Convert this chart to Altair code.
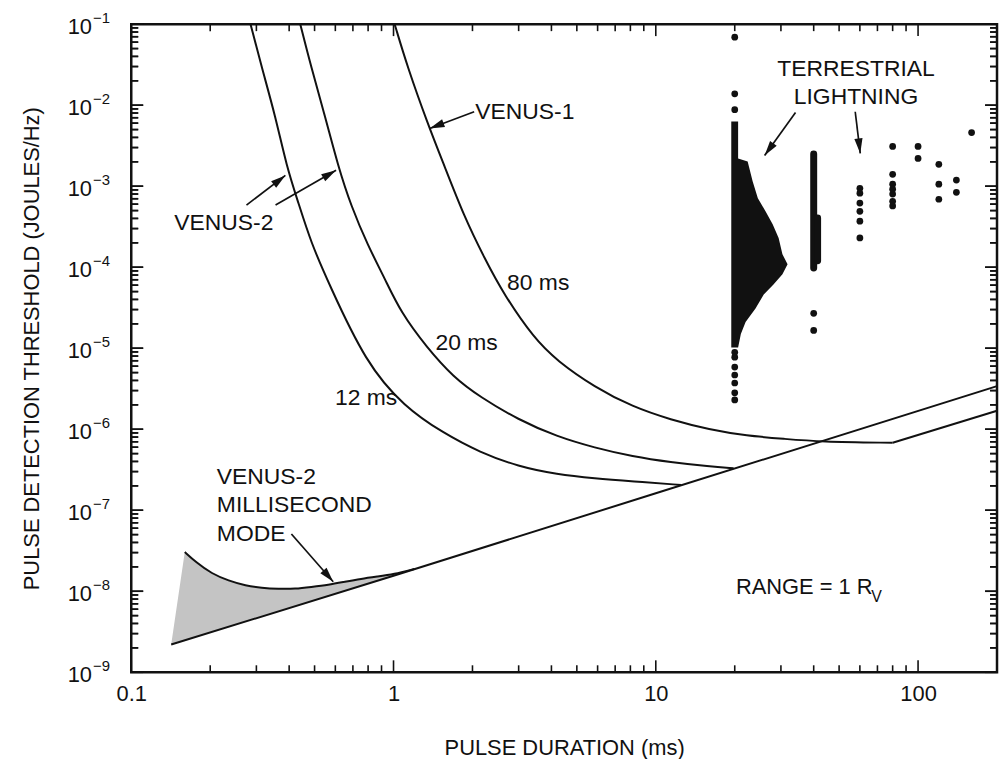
import altair as alt
import pandas as pd

# ---------------- values ----------------
# Venus-1 threshold curve (80 ms), pulse duration [ms] -> threshold [J/Hz]
v1_ms = [1.01, 1.13, 1.35, 1.565, 1.86, 2.22, 2.64, 3.43, 4.20, 5.85, 8.15, 11.4, 16.0, 22.2, 31.0, 42.1, 80.0]
v1_thr = [1e-1, 2.97e-2, 5.9e-3, 1.76e-3, 4.2e-4, 1.3e-4, 4.56e-5, 1.33e-5, 7.0e-6, 3.3e-6,
          1.89e-6, 1.31e-6, 9.9e-7, 8.3e-7, 7.6e-7, 7.0e-7, 6.8e-7]
v1_ramp_ms = [80.0, 200.0]
v1_ramp_thr = [6.8e-7, 1.69e-6]

# Venus-2, 20 ms
v20_ms = [0.441, 0.485, 0.549, 0.615, 0.689, 0.799, 0.927, 1.066, 1.337, 1.69, 2.14, 2.99,
          4.20, 5.85, 8.15, 11.4, 16.0, 19.8]
v20_thr = [1e-1, 2.97e-2, 7.2e-3, 1.76e-3, 5.7e-4, 1.84e-4, 7.2e-5, 2.77e-5, 1.03e-5, 4.4e-6,
           2.5e-6, 1.31e-6, 8.1e-7, 5.9e-7, 4.6e-7, 3.9e-7, 3.47e-7, 3.3e-7]

# Venus-2, 12 ms
v12_ms = [0.285, 0.314, 0.355, 0.391, 0.434, 0.485, 0.564, 0.785, 1.10, 1.54, 2.14, 2.99,
          4.20, 5.85, 8.15, 12.5]
v12_thr = [1e-1, 2.97e-2, 7.2e-3, 1.76e-3, 6.2e-4, 2.0e-4, 6.5e-5, 6.5e-6, 1.89e-6, 9.06e-7,
           5.15e-7, 3.47e-7, 2.77e-7, 2.47e-7, 2.27e-7, 2.05e-7]

# straight noise-limited line
noise_ms = [0.142, 1.0, 10.0, 200.0]
noise_thr = [2.2e-9, 1.55e-8, 1.62e-7, 3.4e-6]

# Venus-2 millisecond mode (upper edge of shaded region) and the line beneath it
mm_ms = [0.142, 0.160, 0.176, 0.203, 0.235, 0.273, 0.314, 0.364, 0.422, 0.485, 0.564,
         0.653, 0.751, 0.871, 1.0, 1.2]
mm_upper = [2.2e-9, 3.05e-8, 2.30e-8, 1.64e-8, 1.35e-8, 1.17e-8, 1.10e-8, 1.07e-8, 1.07e-8,
            1.13e-8, 1.20e-8, 1.31e-8, 1.42e-8, 1.52e-8, 1.62e-8, 1.88e-8]
mm_lower = [2.2e-9, 2.48e-9, 2.73e-9, 3.15e-9, 3.64e-9, 4.23e-9, 4.87e-9, 5.64e-9, 6.54e-9,
            7.52e-9, 8.74e-9, 1.01e-8, 1.16e-8, 1.35e-8, 1.55e-8, 1.87e-8]

# terrestrial lightning: dense 20 ms column (row level -> right edge of the dot pile)
blob_thr = [6.3e-3, 2.2e-3, 2.02e-3, 1.15e-3, 7.1e-4, 4.9e-4, 3.4e-4, 2.3e-4, 1.45e-4,
            1.09e-4, 8.2e-5, 6.1e-5, 4.6e-5, 3.1e-5, 2.1e-5, 1.5e-5, 1.02e-5]
blob_right_ms = [20.6, 20.6, 22.4, 23.4, 24.5, 26.2, 27.9, 29.4, 30.4, 31.8, 30.4, 28.1,
                 25.8, 24.0, 22.0, 21.1, 20.6]
blob_left_ms = 19.4

# 40 ms column of dots (continuous string of dots)
col40_ms = [40.0, 41.4]
col40_top = [2.5e-3, 4.05e-4]
col40_bot = [9.8e-5, 1.2e-4]

# isolated dots
dot_ms = [20, 20, 20, 20, 20, 20, 20, 20, 20, 20,
          40, 40,
          60, 60, 60, 60, 60, 60,
          80, 80, 80, 80, 80, 80, 80,
          100, 100,
          120, 120, 120,
          140, 140,
          160]
dot_thr = [6.9e-2, 1.38e-2, 8.8e-3, 8.9e-6, 7.76e-6, 5.85e-6, 4.67e-6, 3.72e-6, 2.81e-6, 2.3e-6,
           2.7e-5, 1.66e-5,
           9.4e-4, 8.2e-4, 6.2e-4, 4.9e-4, 3.7e-4, 2.3e-4,
           3.1e-3, 1.4e-3, 1.06e-3, 9.2e-4, 8.0e-4, 6.5e-4, 5.7e-4,
           3.1e-3, 2.2e-3,
           1.86e-3, 1.06e-3, 6.9e-4,
           1.19e-3, 8.4e-4,
           4.6e-3]

# annotations
lab_left_text = ["VENUS-1", "VENUS-2", "80 ms", "20 ms", "12 ms", "VENUS-2", "MILLISECOND", "MODE"]
lab_left_ms = [2.05, 0.146, 2.71, 1.446, 0.598, 0.212, 0.212, 0.212]
lab_left_thr = [8.3e-3, 3.5e-4, 6.45e-5, 1.15e-5, 2.44e-6, 2.54e-7, 1.15e-7, 5.08e-8]
range_text = ["RANGE = 1 R"]
range_ms = [20.2]
range_thr = [1.13e-8]
lab_mid_text = ["TERRESTRIAL", "LIGHTNING"]
lab_mid_ms = [58.0, 58.0]
lab_mid_thr = [2.8e-2, 1.27e-2]
sub_text = ["V"]
sub_ms = [66.3]
sub_thr = [8.4e-9]

arrow_tail_ms = [2.03, 0.275, 0.355, 0.408, 34.1, 57.6]
arrow_tail_thr = [8.3e-3, 5.85e-4, 5.85e-4, 5.08e-8, 8.1e-3, 8.3e-3]
arrow_tip_ms = [1.373, 0.387, 0.604, 0.589, 26.0, 60.2]
arrow_tip_thr = [5.15e-3, 1.36e-3, 1.57e-3, 1.31e-8, 2.4e-3, 2.54e-3]
arrow_angle = [249, 52, 60, 139, 216, 173]

# tick positions and labels
x_major = [0.1, 1, 10, 100]
x_minor = [0.2, 0.3, 0.4, 0.5, 0.6, 0.7, 0.8, 0.9, 2, 3, 4, 5, 6, 7, 8, 9,
           20, 30, 40, 50, 60, 70, 80, 90]
y_major = [1e-9, 1e-8, 1e-7, 1e-6, 1e-5, 1e-4, 1e-3, 1e-2, 1e-1]
y_minor = [2e-9, 3e-9, 4e-9, 5e-9, 6e-9, 7e-9, 8e-9, 9e-9,
           2e-8, 3e-8, 4e-8, 5e-8, 6e-8, 7e-8, 8e-8, 9e-8,
           2e-7, 3e-7, 4e-7, 5e-7, 6e-7, 7e-7, 8e-7, 9e-7,
           2e-6, 3e-6, 4e-6, 5e-6, 6e-6, 7e-6, 8e-6, 9e-6,
           2e-5, 3e-5, 4e-5, 5e-5, 6e-5, 7e-5, 8e-5, 9e-5,
           2e-4, 3e-4, 4e-4, 5e-4, 6e-4, 7e-4, 8e-4, 9e-4,
           2e-3, 3e-3, 4e-3, 5e-3, 6e-3, 7e-3, 8e-3, 9e-3,
           2e-2, 3e-2, 4e-2, 5e-2, 6e-2, 7e-2, 8e-2, 9e-2]

# ---------------- chart ----------------
W, H = 871, 652
FONT = "Liberation Sans"
INK = "#111111"
MAJ, MIN = 12, 7
X_LO, X_HI = 0.1, 200.0
xs = alt.Scale(type="log", domain=[X_LO, X_HI], nice=False)
ys = alt.Scale(type="log", domain=[1e-9, 1e-1], nice=False)
PX_PER_DECADE = W / 3.30103  # log10(200 / 0.1)

x_label_axis = alt.Axis(orient="bottom", values=x_major, format="~g", labelFontSize=22,
                        labelPadding=11, labelBaseline="top", labelFlush=False,
                        labelOverlap=False, ticks=False, tickSize=0, domain=False,
                        title="PULSE DURATION (ms)", titleFontSize=22, titleFontWeight="normal",
                        titleX=W / 2, titleY=76, titleBaseline="middle", titleAlign="center")
y_label_axis = alt.Axis(orient="left", values=y_major, labelExpr="'10'", labelFontSize=22,
                        labelAlign="right", labelBaseline="middle", labelPadding=40,
                        labelOffset=2, labelOverlap=False, ticks=False, tickSize=0,
                        domain=False, title="PULSE DETECTION THRESHOLD (JOULES/Hz)",
                        titleFontSize=22, titleFontWeight="normal", titleX=-100, titleY=H / 2,
                        titleAngle=270, titleAlign="center", titleBaseline="middle")
y_exp_axis = alt.Axis(orient="left", values=y_major,
                      labelExpr="'\u2212' + format(-round(log(datum.value)/LN10), 'd')",
                      labelFontSize=15, labelAlign="left", labelBaseline="middle",
                      labelPadding=39, labelOffset=-7, labelOverlap=False, ticks=False,
                      tickSize=0, domain=False, title=None)


def curve(ms, thr, interp, xaxis=None, yaxis=None):
    df = pd.DataFrame({"ms": ms, "thr": thr})
    return alt.Chart(df).mark_line(color=INK, strokeWidth=2, interpolate=interp).encode(
        x=alt.X("ms:Q", scale=xs, axis=xaxis),
        y=alt.Y("thr:Q", scale=ys, axis=yaxis),
        order=alt.Order("ms:Q"),
    )


# ---- inward y ticks on left and right edges (two independent drawings that coincide)
def ytick_lines(values, edge, length_px, direction):
    f = 10 ** (length_px / PX_PER_DECADE)
    end = edge * f if direction > 0 else edge / f
    rows = []
    for i, v in enumerate(values):
        rows.append({"tid": i, "tx": edge, "ty": v})
        rows.append({"tid": i, "tx": end, "ty": v})
    return alt.Chart(pd.DataFrame(rows)).mark_line(color=INK, strokeWidth=1.6).encode(
        x=alt.X("tx:Q", scale=xs, axis=None),
        y=alt.Y("ty:Q", scale=ys, axis=None),
        detail="tid:N",
    )


def ytick_points(values, edge, length_px, direction):
    shape = "M0,0L2,0" if direction > 0 else "M0,0L-2,0"
    df = pd.DataFrame({"px": [edge] * len(values), "py": values})
    return alt.Chart(df).mark_point(
        shape=shape, filled=False, size=length_px * length_px, strokeWidth=1.6,
        color=INK, opacity=1
    ).encode(
        x=alt.X("px:Q", scale=xs, axis=None),
        y=alt.Y("py:Q", scale=ys, axis=None),
    )


def xticks(values, y0, y1):
    return alt.Chart(pd.DataFrame({"v": values})).mark_rule(color=INK, strokeWidth=1.6).encode(
        x=alt.X("v:Q", scale=xs, axis=None), y=alt.value(y0), y2=alt.value(y1))


tick_layers = [
    ytick_lines(y_major, X_LO, MAJ, 1), ytick_lines(y_minor, X_LO, MIN, 1),
    ytick_lines(y_major, X_HI, MAJ, -1), ytick_lines(y_minor, X_HI, MIN, -1),
    ytick_points(y_major, X_LO, MAJ, 1), ytick_points(y_minor, X_LO, MIN, 1),
    ytick_points(y_major, X_HI, MAJ, -1), ytick_points(y_minor, X_HI, MIN, -1),
    xticks(x_major, H, H - MAJ), xticks(x_minor, H, H - MIN),
    xticks(x_major, 0, MAJ), xticks(x_minor, 0, MIN),
]

shade = alt.Chart(pd.DataFrame({"ms": mm_ms, "up": mm_upper, "lo": mm_lower})).mark_area(
    color="#c4c4c4", opacity=1, interpolate="linear"
).encode(
    x=alt.X("ms:Q", scale=xs, axis=None),
    y=alt.Y("up:Q", scale=ys, axis=None),
    y2="lo:Q",
)

v1 = curve(v1_ms, v1_thr, "basis", x_label_axis, y_label_axis)
v1r = curve(v1_ramp_ms, v1_ramp_thr, "linear")
v20 = curve(v20_ms, v20_thr, "basis")
v12 = curve(v12_ms, v12_thr, "basis")
noise = curve(noise_ms, noise_thr, "linear", None, y_exp_axis)
mm = curve(mm_ms[1:], mm_upper[1:], "basis")

blob = alt.Chart(pd.DataFrame({"thr": blob_thr, "xr": blob_right_ms,
                               "xl": [blob_left_ms] * len(blob_thr)})).mark_area(
    color=INK, orient="horizontal", interpolate="linear"
).encode(
    y=alt.Y("thr:Q", scale=ys, axis=None),
    x=alt.X("xl:Q", scale=xs, axis=None),
    x2="xr:Q",
)

col40 = alt.Chart(pd.DataFrame({"ms": col40_ms, "top": col40_top, "bot": col40_bot})).mark_rule(
    color=INK, strokeWidth=7, strokeCap="round"
).encode(
    x=alt.X("ms:Q", scale=xs, axis=None),
    y=alt.Y("top:Q", scale=ys, axis=None),
    y2="bot:Q",
)

dots = alt.Chart(pd.DataFrame({"ms": dot_ms, "thr": dot_thr})).mark_circle(
    color=INK, size=46, opacity=1
).encode(
    x=alt.X("ms:Q", scale=xs, axis=None),
    y=alt.Y("thr:Q", scale=ys, axis=None),
)


def texts(ms, thr, t, align, size):
    df = pd.DataFrame({"ms": ms, "thr": thr, "t": t})
    return alt.Chart(df).mark_text(
        align=align, baseline="middle", fontSize=size, font=FONT, color=INK
    ).encode(x=alt.X("ms:Q", scale=xs, axis=None), y=alt.Y("thr:Q", scale=ys, axis=None),
             text="t:N")


txt_left = texts(lab_left_ms, lab_left_thr, lab_left_text, "left", 23)
txt_range = texts(range_ms, range_thr, range_text, "left", 22)
txt_mid = texts(lab_mid_ms, lab_mid_thr, lab_mid_text, "center", 23)
txt_sub = texts(sub_ms, sub_thr, sub_text, "left", 16)

arrows = pd.DataFrame({"x1": arrow_tail_ms, "y1": arrow_tail_thr, "x2": arrow_tip_ms,
                       "y2": arrow_tip_thr, "ang": arrow_angle})
shafts = alt.Chart(arrows).mark_rule(color=INK, strokeWidth=1.7).encode(
    x=alt.X("x1:Q", scale=xs, axis=None), y=alt.Y("y1:Q", scale=ys, axis=None),
    x2="x2:Q", y2="y2:Q",
)
heads = alt.Chart(arrows).mark_point(
    shape="M0,0L-0.55,2L0.55,2Z", filled=True, size=225, color=INK, opacity=1
).encode(
    x=alt.X("x2:Q", scale=xs, axis=None), y=alt.Y("y2:Q", scale=ys, axis=None),
    angle=alt.Angle("ang:Q", scale=None),
)

chart = alt.layer(
    shade, v1, v1r, v20, v12, noise, mm, blob, col40, dots,
    txt_left, txt_range, txt_mid, txt_sub, shafts, heads, *tick_layers
).resolve_axis(
    x="independent", y="independent"
).properties(
    width=W, height=H,
    autosize=alt.AutoSizeParams(type="none"),
    padding={"left": 124, "top": 14, "right": 2, "bottom": 85},
).configure_view(
    stroke=INK, strokeWidth=2.5
).configure_axis(
    grid=False, labelFont=FONT, titleFont=FONT, labelColor=INK, titleColor=INK
)

chart.save("out.html", embed_options={"renderer": "svg", "actions": False})
